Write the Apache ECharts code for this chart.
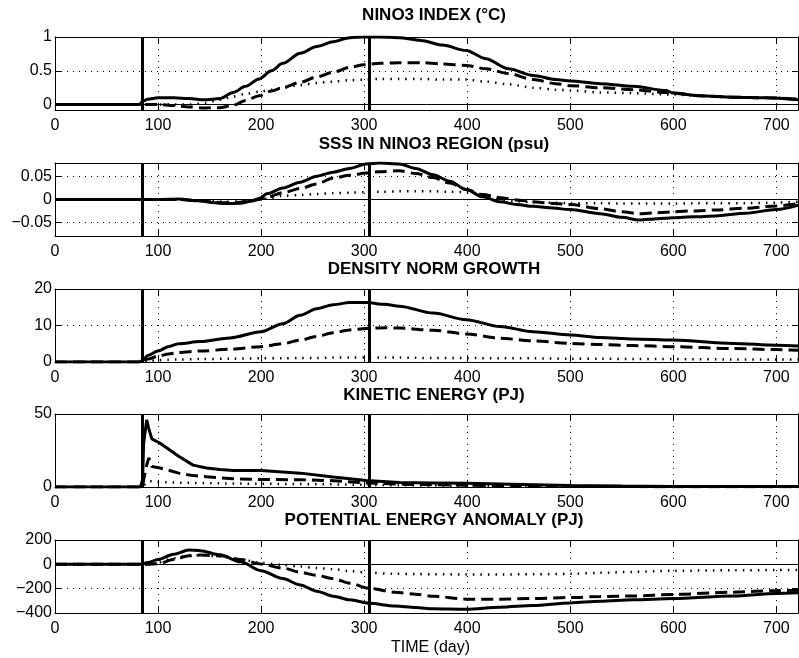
<!DOCTYPE html>
<html><head><meta charset="utf-8">
<script src="https://cdn.jsdelivr.net/npm/echarts@6/dist/echarts.min.js"></script>
<style>html,body{margin:0;padding:0;background:#fff}#c{width:799px;height:658px}</style>
</head><body><div id="c"></div>
<script>
// ---------------- DATA ----------------
const X_TICKS = [0, 100, 200, 300, 400, 500, 600, 700];
const X_MIN = 0, X_MAX = 721;
const EVENT_DAYS = [85, 305];
const X_NAME = 'TIME (day)';

// Panel 1: NINO3 index
const TITLE_1 = 'NINO3 INDEX (\u00B0C)';
const yTicks1 = [0, 0.5, 1];
const days1 = [0, 82, 85, 90, 100, 115, 130, 145, 160, 173, 185, 198, 210, 221, 238, 254, 270, 286, 300, 315, 334, 355, 376, 399, 418, 440, 464, 486, 500, 529, 561, 593, 600, 626, 658, 690, 722];
const solid1 = [0, 0, 0.05, 0.08, 0.10, 0.10, 0.09, 0.07, 0.09, 0.18, 0.27, 0.38, 0.50, 0.61, 0.76, 0.86, 0.93, 0.99, 1.0, 1.0, 0.99, 0.95, 0.88, 0.80, 0.68, 0.53, 0.43, 0.37, 0.35, 0.31, 0.27, 0.21, 0.17, 0.13, 0.11, 0.10, 0.07];
const dashed1 = [0, 0, 0, 0, 0, -0.015, -0.035, -0.05, -0.045, -0.01, 0.06, 0.13, 0.20, 0.25, 0.33, 0.41, 0.48, 0.55, 0.59, 0.61, 0.62, 0.62, 0.60, 0.58, 0.53, 0.46, 0.37, 0.31, 0.28, 0.25, 0.22, 0.18, 0.17, 0.13, 0.11, 0.10, 0.08];
const dotted1 = [0, 0, 0, 0, 0, 0, 0, 0.02, 0.07, 0.12, 0.16, 0.19, 0.22, 0.25, 0.29, 0.32, 0.34, 0.36, 0.37, 0.38, 0.38, 0.38, 0.37, 0.37, 0.34, 0.30, 0.25, 0.22, 0.21, 0.18, 0.17, 0.15, 0.15, 0.13, 0.11, 0.10, 0.09];

// Panel 2: SSS in NINO3 region
const TITLE_2 = 'SSS IN NINO3 REGION (psu)';
const yTicks2 = [-0.05, 0, 0.05];
const days2 = [0, 82, 85, 100, 120, 140, 155, 165, 180, 190, 198, 206, 221, 238, 254, 270, 286, 302, 315, 334, 350, 367, 383, 399, 415, 432, 448, 464, 480, 500, 529, 550, 567, 585, 600, 620, 641, 670, 700, 722];
const solid2 = [0, 0, 0, 0, 0.001, -0.003, -0.007, -0.009, -0.008, -0.004, 0.002, 0.013, 0.025, 0.038, 0.051, 0.060, 0.068, 0.078, 0.080, 0.078, 0.068, 0.054, 0.040, 0.022, 0.006, -0.005, -0.011, -0.015, -0.018, -0.022, -0.031, -0.039, -0.045, -0.042, -0.040, -0.038, -0.036, -0.030, -0.022, -0.012];
const dashed2 = [0, 0, 0, 0, 0, -0.003, -0.006, -0.007, -0.006, -0.003, 0, 0.005, 0.015, 0.024, 0.034, 0.047, 0.053, 0.058, 0.061, 0.063, 0.057, 0.048, 0.036, 0.022, 0.011, 0.004, -0.001, -0.005, -0.008, -0.011, -0.020, -0.027, -0.031, -0.029, -0.027, -0.025, -0.023, -0.019, -0.014, -0.009];
const dotted2 = [0, 0, 0, 0, 0, -0.002, -0.004, -0.005, -0.004, -0.002, 0, 0.002, 0.008, 0.010, 0.012, 0.014, 0.015, 0.016, 0.017, 0.018, 0.018, 0.018, 0.017, 0.016, 0.010, 0.0, -0.004, -0.006, -0.007, -0.008, -0.008, -0.009, -0.009, -0.009, -0.009, -0.008, -0.008, -0.008, -0.007, -0.005];

// Panel 3: density norm growth
const TITLE_3 = 'DENSITY NORM GROWTH';
const yTicks3 = [0, 10, 20];
const days3 = [0, 82, 85, 90, 100, 110, 120, 141, 170, 200, 221, 238, 254, 270, 286, 302, 320, 334, 367, 399, 432, 464, 500, 529, 561, 600, 658, 700, 722];
const solid3 = [0, 0, 0.5, 1.8, 3.0, 4.2, 5.0, 5.6, 6.6, 8.3, 10.5, 12.8, 14.6, 15.7, 16.3, 16.3, 15.8, 15.3, 13.4, 11.6, 9.7, 8.3, 7.4, 6.7, 6.3, 6.0, 5.1, 4.6, 4.4];
const dashed3 = [0, 0, 0, 0.8, 1.6, 2.2, 2.6, 3.0, 3.5, 4.2, 5.0, 6.0, 7.0, 8.0, 8.8, 9.2, 9.4, 9.3, 8.7, 7.7, 6.5, 5.8, 5.1, 4.8, 4.5, 4.2, 3.7, 3.4, 3.2];
const dotted3 = [0, 0, 0, 0.3, 0.5, 0.6, 0.7, 0.8, 0.9, 1.0, 1.0, 1.1, 1.1, 1.2, 1.2, 1.2, 1.2, 1.2, 1.1, 1.1, 1.0, 1.0, 0.9, 0.9, 0.8, 0.8, 0.7, 0.7, 0.7];

// Panel 4: kinetic energy
const TITLE_4 = 'KINETIC ENERGY (PJ)';
const yTicks4 = [0, 50];
const days4 = [0, 83, 85, 86, 89, 91, 94, 102, 110, 120, 134, 147, 160, 173, 200, 238, 270, 302, 334, 367, 399, 432, 464, 500, 550, 600, 650, 722];
const solid4 = [0, 0, 5, 30, 46, 40, 33, 30, 26, 21, 15, 13, 12, 11.3, 11.3, 9.5, 6.8, 4.5, 3.1, 2.8, 2.5, 2, 1.5, 1, 0.6, 0.4, 0.3, 0.3];
const dashed4 = [0, 0, 0, 5, 15, 20, 14, 13, 11.5, 9.5, 7.8, 7, 6.3, 5.6, 5.1, 5, 4.3, 2.8, 2, 1.5, 1.2, 1, 0.7, 0.5, 0.3, 0.2, 0.2, 0.2];
const dotted4 = [0, 0, 0, 1, 3, 4, 4, 3.5, 3.2, 3, 2.8, 2.6, 2.5, 2.4, 2.2, 2, 1.8, 1.5, 1.2, 1, 0.8, 0.6, 0.5, 0.4, 0.3, 0.2, 0.2, 0.2];

// Panel 5: potential energy anomaly
const TITLE_5 = 'POTENTIAL ENERGY ANOMALY (PJ)';
const yTicks5 = [-400, -200, 0, 200];
const days5 = [0, 84, 85, 90, 100, 115, 130, 141, 160, 180, 200, 221, 238, 254, 270, 286, 305, 330, 350, 367, 399, 432, 464, 500, 529, 561, 600, 658, 700, 722];
const solid5 = [0, 0, 5, 15, 39, 83, 118, 112, 78, 21, -52, -117, -169, -221, -262, -292, -320, -343, -355, -365, -369, -352, -338, -317, -304, -291, -281, -260, -239, -234];
const dashed5 = [0, 0, 0, 0, 5, 39, 70, 76, 70, 40, 2, -31, -65, -91, -117, -156, -197, -229, -245, -262, -286, -286, -281, -273, -265, -260, -247, -229, -215, -213];
const dotted5 = [0, 0, 0, 0, 15, 50, 72, 75, 65, 40, 12, -5, -18, -30, -40, -55, -70, -78, -80, -82, -83, -83, -82, -78, -70, -62, -53, -49, -47, -47];

// ---------------- LAYOUT / STYLE ----------------
const panels = [
  {title: TITLE_1, days: days1, solid: solid1, dashed: dashed1, dotted: dotted1, yMin: -0.08, yMax: 1, yTicks: yTicks1, zero: true},
  {title: TITLE_2, days: days2, solid: solid2, dashed: dashed2, dotted: dotted2, yMin: -0.08, yMax: 0.08, yTicks: yTicks2, zero: true},
  {title: TITLE_3, days: days3, solid: solid3, dashed: dashed3, dotted: dotted3, yMin: 0, yMax: 20, yTicks: yTicks3, zero: false},
  {title: TITLE_4, days: days4, solid: solid4, dashed: dashed4, dotted: dotted4, yMin: 0, yMax: 50, yTicks: yTicks4, zero: false, sharp: true},
  {title: TITLE_5, days: days5, solid: solid5, dashed: dashed5, dotted: dotted5, yMin: -400, yMax: 200, yTicks: yTicks5, zero: true}
];
const FONT = "'Liberation Sans', Arial, Helvetica, sans-serif";
const gridTops = [37, 163, 289, 414, 540];
const titleYs = [15, 144, 269, 395, 520];
const GRID_H = 73, GRID_LEFT = 55, GRID_W = 743;

const grids = [], xAxes = [], yAxes = [], series = [], titles = [];
panels.forEach((p, i) => {
  grids.push({left: GRID_LEFT, top: gridTops[i], width: GRID_W, height: GRID_H, containLabel: false});
  titles.push({text: p.title, left: 434, top: titleYs[i], padding: 0, textAlign: 'center', textVerticalAlign: 'middle',
    textStyle: {fontFamily: FONT, fontSize: 17, fontWeight: 'bold', color: '#000'}});
  const last = i === panels.length - 1;
  xAxes.push({
    type: 'value', gridIndex: i, position: 'bottom', min: X_MIN, max: X_MAX,
    axisLine: {show: true, onZero: false, lineStyle: {color: '#000', width: 1}},
    axisTick: {show: true, inside: true, length: 6, customValues: X_TICKS, lineStyle: {color: '#000'}},
    axisLabel: {show: true, customValues: X_TICKS, margin: 8, color: '#000', fontSize: 16, fontFamily: FONT},
    splitLine: {show: true, lineStyle: {type: [1, 5], color: '#000', width: 1}},
    name: last ? X_NAME : '', nameLocation: 'middle', nameGap: 27,
    nameTextStyle: {color: '#000', fontSize: 16, fontFamily: FONT, padding: [0, 0, 0, 8]}
  });
  xAxes.push({
    type: 'value', gridIndex: i, position: 'top', min: X_MIN, max: X_MAX,
    axisLine: {show: true, onZero: false, lineStyle: {color: '#000', width: 1}},
    axisTick: {show: true, inside: true, length: 6, customValues: X_TICKS, lineStyle: {color: '#000'}},
    axisLabel: {show: false, customValues: X_TICKS}, splitLine: {show: false}
  });
  yAxes.push({
    type: 'value', gridIndex: i, position: 'left', min: p.yMin, max: p.yMax,
    axisLine: {show: true, onZero: false, lineStyle: {color: '#000', width: 1}},
    axisTick: {show: true, inside: true, length: 6, customValues: p.yTicks, lineStyle: {color: '#000'}},
    axisLabel: {show: true, customValues: p.yTicks, margin: 3, color: '#000', fontSize: 16, fontFamily: FONT,
      formatter: v => String(+v.toFixed(4)).replace('-', '\u2212')},
    splitLine: {show: true, lineStyle: {type: [1, 5], color: '#000', width: 1}}
  });
  yAxes.push({
    type: 'value', gridIndex: i, position: 'right', min: p.yMin, max: p.yMax,
    axisLine: {show: true, onZero: false, lineStyle: {color: '#000', width: 1}},
    axisTick: {show: true, inside: true, length: 6, customValues: p.yTicks, lineStyle: {color: '#000'}},
    axisLabel: {show: false, customValues: p.yTicks}, splitLine: {show: false}
  });
  const mk = vals => p.days.map((d, k) => [d, vals[k]]);
  const sm = p.sharp ? false : 0.3;
  const mlData = EVENT_DAYS.map(d => ({xAxis: d}));
  if (p.zero) mlData.push({yAxis: 0, lineStyle: {width: 1, color: '#000', type: 'solid'}});
  series.push({type: 'line', xAxisIndex: 2 * i, yAxisIndex: 2 * i, data: mk(p.dotted), showSymbol: false, smooth: sm, smoothMonotone: 'x',
    lineStyle: {color: '#000', width: 2.5, type: [1.5, 6]}, z: 3});
  series.push({type: 'line', xAxisIndex: 2 * i, yAxisIndex: 2 * i, data: mk(p.dashed), showSymbol: false, smooth: sm, smoothMonotone: 'x',
    lineStyle: {color: '#000', width: 3, type: [12, 6]}, z: 4});
  series.push({type: 'line', xAxisIndex: 2 * i, yAxisIndex: 2 * i, data: mk(p.solid), showSymbol: false, smooth: sm, smoothMonotone: 'x',
    lineStyle: {color: '#000', width: 3, type: 'solid'}, z: 5,
    markLine: {silent: true, symbol: ['none', 'none'], label: {show: false}, animation: false,
      lineStyle: {color: '#000', width: 3, type: 'solid'}, data: mlData}});
});

const chart = echarts.init(document.getElementById('c'), null, {renderer: 'canvas'});
chart.setOption({
  animation: false, backgroundColor: '#fff',
  title: titles, grid: grids, xAxis: xAxes, yAxis: yAxes, series: series
});
</script></body></html>
